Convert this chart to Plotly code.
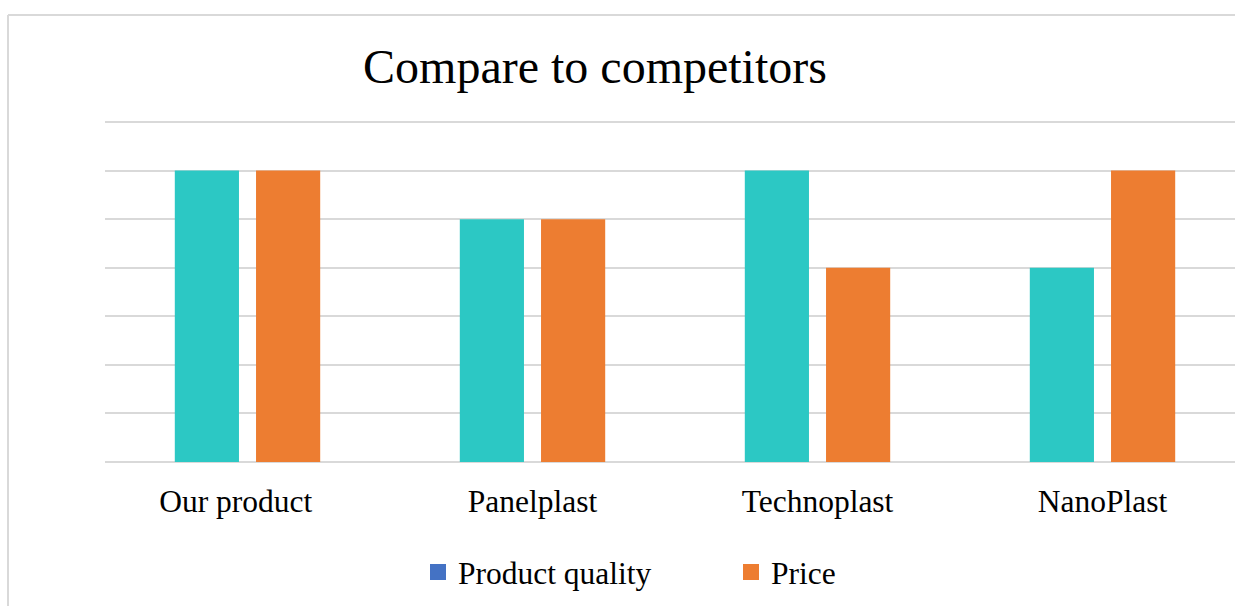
import plotly.graph_objects as go

categories = ["Our product", "Panelplast", "Technoplast", "NanoPlast"]
tick_labels = ["Our product\u00a0\u00a0\u00a0", "Panelplast", "Technoplast", "NanoPlast"]
quality = [6, 5, 6, 4]
price = [6, 5, 4, 6]
series_names = ["Product quality", "Price"]

TEAL = "#2CC8C4"
BLUE = "#4472C4"
ORANGE = "#ED7D31"
GRID = "#D9D9D9"
FONT = "Liberation Serif, Times New Roman, serif"

W, H = 1235, 606
L, R, T, B = 105, 0, 120, 144
pw = W - L - R
ph = H - T - B
cat_px = 285.0
unit_px = 340.0 / 7.0

fig = go.Figure()
fig.add_trace(go.Bar(x=categories, y=quality, name=series_names[0],
                     marker=dict(color=TEAL, line=dict(width=0)), showlegend=False))
fig.add_trace(go.Bar(x=categories, y=price, name=series_names[1],
                     marker=dict(color=ORANGE, line=dict(width=0)), showlegend=False))
# legend entries
fig.add_trace(go.Scatter(x=[None], y=[None], mode="markers", name=series_names[0],
                         marker=dict(symbol="square", size=16, color=BLUE)))
fig.add_trace(go.Scatter(x=[None], y=[None], mode="markers", name=series_names[1],
                         marker=dict(symbol="square", size=16, color=ORANGE)))

def px_x(p):
    return (p - L) / pw

def px_y(p):
    return (H - B - p) / ph

# outer chart border (top and left)
fig.add_shape(type="line", xref="paper", yref="paper",
              x0=px_x(8), x1=px_x(W + 20), y0=px_y(15), y1=px_y(15),
              line=dict(color=GRID, width=2))
fig.add_shape(type="line", xref="paper", yref="paper",
              x0=px_x(8), x1=px_x(8), y0=px_y(15), y1=px_y(H + 20),
              line=dict(color=GRID, width=2))

fig.update_layout(
    width=W, height=H,
    margin=dict(l=L, r=R, t=T, b=B, pad=0),
    paper_bgcolor="white", plot_bgcolor="white",
    barmode="group", bargap=0.43, bargroupgap=0.21,
    title=dict(text="Compare to competitors", x=595 / W,
               xanchor="center", y=1 - 66 / H, yanchor="middle",
               font=dict(family=FONT, size=48, color="black")),
    font=dict(family=FONT, color="black"),
    legend=dict(orientation="h", x=px_x(418), xanchor="left",
                y=px_y(572), yanchor="middle",
                font=dict(family=FONT, size=31.5, color="black"),
                entrywidth=268, entrywidthmode="pixels",
                bgcolor="rgba(0,0,0,0)", itemclick=False),
    xaxis=dict(range=[-0.5, -0.5 + pw / cat_px], showgrid=False, showline=False,
               zeroline=False, ticks="", ticklabelstandoff=17,
               tickmode="array", tickvals=categories, ticktext=tick_labels,
               tickfont=dict(family=FONT, size=31.5, color="black"), fixedrange=True),
    yaxis=dict(range=[0, ph / unit_px], tickmode="array", tickvals=list(range(0, 8)),
               showgrid=True, gridcolor=GRID, gridwidth=2,
               zeroline=True, zerolinecolor=GRID, zerolinewidth=2,
               showticklabels=False, ticks="", showline=False, fixedrange=True),
)

fig.write_html("out.html")
